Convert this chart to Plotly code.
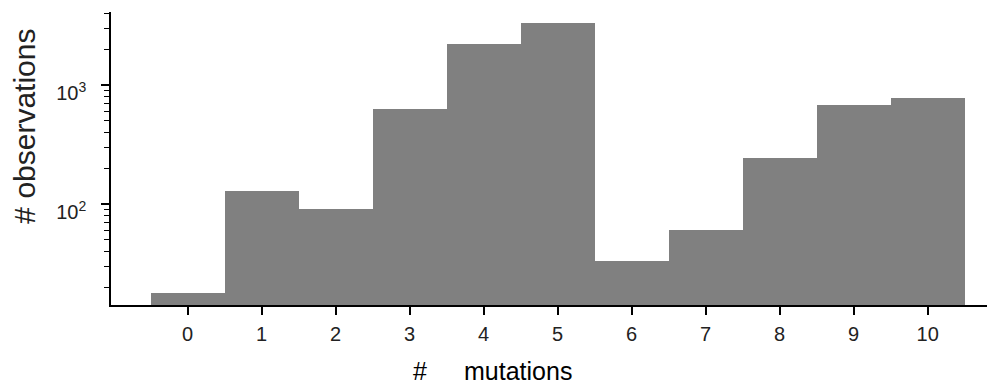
import plotly.graph_objects as go

# Data
mutations = [0, 1, 2, 3, 4, 5, 6, 7, 8, 9, 10]
observations = [18, 129, 90, 625, 2220, 3320, 33, 60, 245, 675, 778]
x_tick_labels = [str(v) for v in mutations]
y_major_ticks = [100, 1000]
y_major_labels = ["10<sup>2</sup>", "10<sup>3</sup>"]
y_minor_ticks = [20, 30, 40, 50, 60, 70, 80, 90,
                 200, 300, 400, 500, 600, 700, 800, 900,
                 2000, 3000, 4000]

FONT = "Liberation Sans, Arial, sans-serif"

fig = go.Figure()
fig.add_trace(go.Bar(
    x=mutations, y=observations,
    width=1.0,
    marker=dict(color="#808080", line=dict(width=0)),
    showlegend=False,
))

# page body has an 8px default margin; figure is sized to fit the window
fig.update_layout(
    template="none",
    width=987, height=381,
    margin=dict(l=103, r=0, t=4, b=84, autoexpand=False),
    paper_bgcolor="white", plot_bgcolor="white",
    bargap=0,
    font=dict(family=FONT, color="black", size=20),
    xaxis=dict(
        automargin=False,
        range=[-1.036, 10.91],
        tickmode="array", tickvals=mutations, ticktext=x_tick_labels,
        ticks="outside", ticklen=8, tickwidth=1.5, tickcolor="black",
        showline=True, linecolor="black", linewidth=1.5,
        showgrid=False, zeroline=False,
        ticklabelstandoff=2,
        tickfont=dict(size=20, family=FONT, color="#222"),
    ),
    yaxis=dict(
        automargin=False,
        type="log",
        range=[1.151, 3.613],
        tickmode="array", tickvals=y_major_ticks, ticktext=y_major_labels,
        ticks="outside", ticklen=8, tickwidth=1.5, tickcolor="black",
        showline=True, linecolor="black", linewidth=1.5,
        showgrid=False, zeroline=False,
        ticklabelstandoff=11, ticklabelshift=8,
        tickfont=dict(size=20, family=FONT, color="#222"),
        minor=dict(tickmode="array", tickvals=y_minor_ticks,
                   ticks="outside", ticklen=5, tickwidth=1, tickcolor="black",
                   showgrid=False),
    ),
    annotations=[
        dict(text="#", xref="paper", yref="paper", x=0.349, y=-0.225,
             xanchor="center", yanchor="middle", showarrow=False,
             font=dict(size=25, family=FONT, color="black")),
        dict(text="mutations", xref="paper", yref="paper", x=0.4604, y=-0.225,
             xanchor="center", yanchor="middle", showarrow=False,
             font=dict(size=25, family=FONT, color="black")),
        dict(text="# observations", xref="paper", yref="paper", x=-0.098, y=0.61,
             xanchor="center", yanchor="middle", showarrow=False, textangle=-90,
             font=dict(size=30, family=FONT, color="#222")),
    ],
)

fig.write_html("out.html")
